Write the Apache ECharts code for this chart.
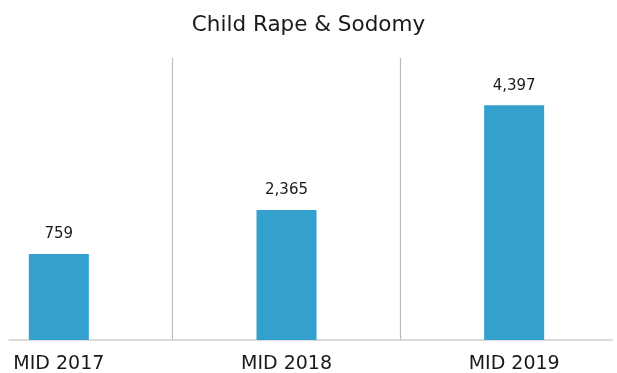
<!DOCTYPE html>
<html>
<head>
<meta charset="utf-8">
<script src="https://cdn.jsdelivr.net/npm/echarts@6/dist/echarts.min.js"></script>
<style>
  html, body { margin: 0; padding: 0; background: #fff; }
  #main { width: 617px; height: 373px; }
</style>
</head>
<body>
<div id="main"></div>
<script>
// categories and printed figures
const categories = ['MID 2017', 'MID 2018', 'MID 2019'];
const printedValues = ['759', '2,365', '4,397'];
// bar lengths as drawn in the source (its bars are not to scale with the printed figures)
const barValues = [1610, 2434, 4397];
const yMax = 5280;

const chart = echarts.init(document.getElementById('main'));
const font = 'DejaVu Sans';

chart.setOption({
    animation: false,
    backgroundColor: '#ffffff',
    title: {
        text: 'Child Rape & Sodomy',
        left: 'center',
        top: 9,
        textStyle: { fontFamily: font, fontSize: 21.5, fontWeight: 'normal', color: '#1a1a1a' }
    },
    grid: [
        { left: -55, right: -11, top: 58, bottom: 33, outerBoundsMode: 'none', containLabel: false },
        { left: 9, right: 5, top: 58, bottom: 33 }
    ],
    xAxis: [
        {
            type: 'category',
            gridIndex: 0,
            data: categories,
            axisLine: { show: false },
            axisTick: { show: false },
            axisLabel: { fontFamily: font, fontSize: 19, color: '#1a1a1a', margin: 15 },
            splitLine: { show: true, lineStyle: { color: '#bdbdbd', width: 1.2 } }
        },
        {
            type: 'category',
            gridIndex: 1,
            data: [''],
            axisLine: { show: true, lineStyle: { color: '#d0d0d0', width: 1.5 } },
            axisTick: { show: false },
            axisLabel: { show: false },
            splitLine: { show: false }
        }
    ],
    yAxis: [
        { type: 'value', gridIndex: 0, min: 0, max: yMax, show: false, splitLine: { show: false } },
        { type: 'value', gridIndex: 1, min: 0, max: 1, show: false, splitLine: { show: false } }
    ],
    series: [
        {
            type: 'bar',
            xAxisIndex: 0,
            yAxisIndex: 0,
            data: barValues,
            barWidth: 60,
            itemStyle: { color: '#33a0cd' },
            label: {
                show: true,
                position: 'top',
                distance: 12,
                fontFamily: font,
                fontSize: 15,
                color: '#1a1a1a',
                formatter: function (p) { return printedValues[p.dataIndex]; }
            }
        }
    ]
});
</script>
</body>
</html>
